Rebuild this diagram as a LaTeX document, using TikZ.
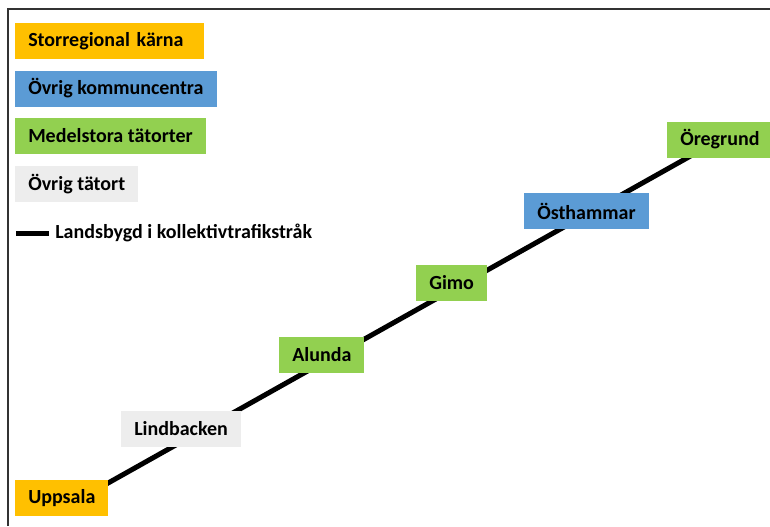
\documentclass[tikz,border=0pt]{standalone}
\usepackage{fontspec}
\setmainfont{Carlito}
\usetikzlibrary{backgrounds}
\definecolor{karna}{HTML}{FFC000}
\definecolor{kommun}{HTML}{5B9BD5}
\definecolor{medel}{HTML}{92D050}
\definecolor{tatort}{HTML}{EDEDED}
\tikzset{
  ort/.style={anchor=west, minimum height=27pt, inner xsep=9.75pt, inner ysep=0pt,
    font=\fontsize{15}{17}\selectfont\bfseries},
  strak/.style={line width=3.75pt},
}
\begin{document}
\begin{tikzpicture}[x=0.75pt,y=-0.75pt]
        \useasboundingbox (0,0) rectangle (770,526);
        % ram
        \draw[line width=1.5pt, black!80] (8,526) -- (8,9) -- (770,9);

        % teckenförklaring
        \node[ort, fill=karna, text width=122.25pt, align=left] (leg1) at (15,41) {Storregional kärna};
        \node[ort, fill=kommun] (leg2) at (15,88.5) {Övrig kommuncentra};
        \node[ort, fill=medel] (leg3) at (15,136) {Medelstora tätorter};
        \node[ort, fill=tatort] (leg4) at (15,184) {Övrig tätort};
        \coordinate (linA) at (16,233);
        \coordinate (linB) at (49,233);
        \draw[strak] (linA) -- (linB);
        \node[anchor=west, inner xsep=0pt, font=\fontsize{15}{17}\selectfont\bfseries] (leg5) at (55,233) {Landsbygd i kollektivtrafikstråk};

        % orter längs stråket
        \node[ort, fill=karna] (uppsala) at (15,498) {Uppsala};
        \node[ort, fill=tatort] (lindbacken) at (121,428.5) {Lindbacken};
        \node[ort, fill=medel] (alunda) at (279,354.5) {Alunda};
        \node[ort, fill=medel] (gimo) at (416,282.5) {Gimo};
        \node[ort, fill=kommun] (osthammar) at (524,211) {Östhammar};
        \node[ort, fill=medel] (oregrund) at (667,139.5) {Öregrund};

        % stråket
        \begin{pgfonlayer}{background}
          \draw[strak] ([yshift=-8.25pt]uppsala.center) -- (oregrund.center);
        \end{pgfonlayer}
\end{tikzpicture}
\end{document}
